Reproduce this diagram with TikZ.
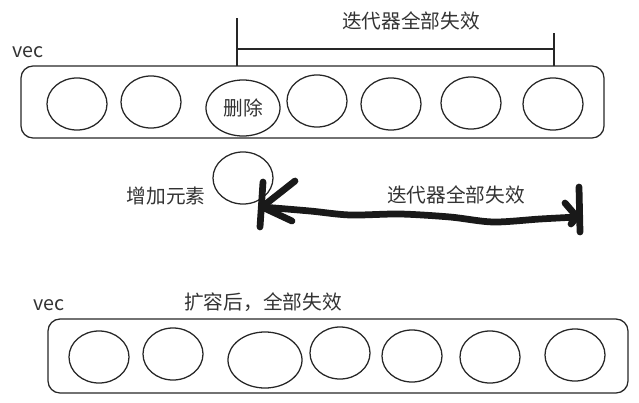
\documentclass[tikz,border=0pt]{standalone}
\usepackage{fontspec}
\setmainfont{Noto Sans CJK SC}
\usetikzlibrary{shapes.geometric}

\tikzset{
  sketch/.style={draw=black!85,line width=0.9pt},
  elem/.style={sketch,ellipse,inner sep=0pt,minimum width=1.5cm,minimum height=1.3cm},
  bigelem/.style={elem,minimum width=1.85cm,minimum height=1.4cm},
  vecbox/.style={sketch,rounded corners=0.3cm},
  txt/.style={text=black!80,inner sep=0pt,font=\fontsize{14pt}{16pt}\selectfont},
  fat/.style={line width=4.8pt,line cap=round,line join=round,draw=black!90}
}

\begin{document}
\begin{tikzpicture}[x=0.025cm,y=-0.025cm]
  \useasboundingbox (0,0) rectangle (639,402);
  % top vec, one element erased
  \node[txt] (vecA) at (28,52) {vec};
  \draw[vecbox] (21,66) rectangle (604,138);
  \foreach \n/\x/\y in {1/77/104,2/151/102,4/317/101,5/391/104,6/471/103,7/553/104}
    \node[elem] (a\n) at (\x,\y) {};
  \node[bigelem,txt] (a3) at (243,108) {删除};
  \coordinate (bl) at (237,18);
  \coordinate (br) at (554,33);
  \draw[sketch] (bl) -- (237,66);
  \draw[sketch] (br) -- (554,66);
  \draw[sketch] (237,49) -- (554,49);
  \node[txt] (titleA) at (411,21) {迭代器全部失效};

  % insert
  \node[elem] (new) at (243,178) {};
  \node[txt] (newtxt) at (166,196) {增加元素};
  \coordinate (tipL) at (262,207);
  \coordinate (tipR) at (577,217);
  \draw[fat] plot[smooth] coordinates {(tipL) (310,211) (350,215) (400,214) (450,217) (493,222) (540,219) (tipR)};
  \draw[fat] (295,181) -- (tipL) -- (292,221);
  \draw[fat] (263,182) -- (260,227);
  \draw[fat] (565,203) -- (tipR) -- (571,224);
  \draw[fat] (579,187) -- (580,232);
  \node[txt] (midtxt) at (456,195) {迭代器全部失效};

  % bottom vec, after growing
  \node[txt] (vecB) at (49,305) {vec};
  \node[txt] (titleB) at (263,302) {扩容后，全部失效};
  \draw[vecbox] (48,319) rectangle (628,393);
  \foreach \n/\x/\y in {1/99/357,2/173/354,4/340/353,5/412/356,6/490/357,7/575/355}
    \node[elem] (b\n) at (\x,\y) {};
  \node[bigelem] (b3) at (265,360) {};
\end{tikzpicture}
\end{document}
